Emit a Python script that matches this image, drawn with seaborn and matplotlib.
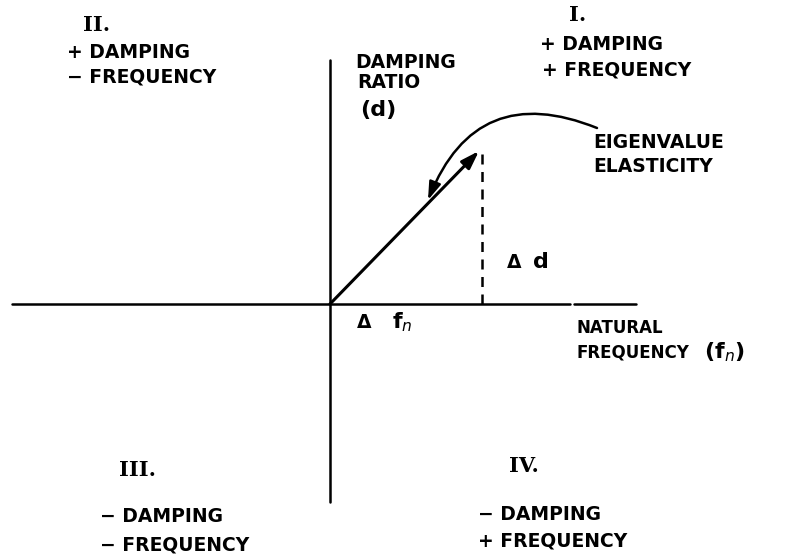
import pandas as pd
import matplotlib.pyplot as plt
import seaborn as sns

# axis extents and the elasticity vector (pixel-like units, origin at the crossing)
freq_axis = [-318, 240, 244, 306]   # drawn in two strokes, small break near the end
damp_axis = [244, -198]
delta_fn = 152
delta_d = 153

# curved "eigenvalue elasticity" arrow: start near the label, end on the vector
curve_start = (267, 176)
curve_end = (98, 104)

quadrant_names = ['I.', 'II.', 'III.', 'IV.']
quadrant_signs = [('+ DAMPING', '+ FREQUENCY'),
                  ('+ DAMPING', '− FREQUENCY'),
                  ('− DAMPING', '− FREQUENCY'),
                  ('− DAMPING', '+ FREQUENCY')]

sns.set_theme(style='white')
plt.rcParams['font.family'] = ['DejaVu Sans']

fig = plt.figure(figsize=(7.86, 5.59), dpi=100)
ax = fig.add_axes([0, 0, 1, 1])

# axes drawn as lines
h = pd.DataFrame({'x': freq_axis, 'y': [0, 0, 0, 0], 'seg': [0, 0, 1, 1]})
v = pd.DataFrame({'x': [0, 0], 'y': damp_axis})
sns.lineplot(data=h, x='x', y='y', units='seg', color='black', lw=1.8, ax=ax,
             sort=False, estimator=None)
sns.lineplot(data=v, x='x', y='y', color='black', lw=1.8, ax=ax, sort=False, estimator=None)

# dashed projection (delta d)
dash = pd.DataFrame({'x': [delta_fn, delta_fn], 'y': [0, delta_d]})
sns.lineplot(data=dash, x='x', y='y', color='black', lw=1.8, ax=ax,
             sort=False, estimator=None, linestyle=(0, (4, 3)))

# the vector
ax.annotate('', xy=(delta_fn - 3, delta_d), xytext=(0, 0),
            arrowprops=dict(arrowstyle='-|>,head_length=0.9,head_width=0.3',
                            color='black', lw=2.2, shrinkA=0, shrinkB=0))

# curved arrow
ax.annotate('', xy=curve_end, xytext=curve_start,
            arrowprops=dict(arrowstyle='-|>,head_length=0.9,head_width=0.3',
                            connectionstyle='arc3,rad=0.5',
                            color='black', lw=1.8, shrinkA=0, shrinkB=0))

txt = dict(fontsize=13.5, fontweight='bold', color='black', va='center')
small = dict(fontsize=12, fontweight='bold', color='black', va='center')
big = dict(fontsize=16, fontweight='bold', color='black', va='center')
num = dict(fontsize=15, fontweight='bold', family='DejaVu Serif', color='black',
           va='center', ha='center')

# quadrant II
ax.text(-233, 279, quadrant_names[1], **num)
ax.text(-263, 251, quadrant_signs[1][0], **txt)
ax.text(-263, 227, quadrant_signs[1][1], **txt)
# quadrant I
ax.text(248, 289, quadrant_names[0], **num)
ax.text(210, 259, quadrant_signs[0][0], **txt)
ax.text(212, 234, quadrant_signs[0][1], **txt)
# quadrant III
ax.text(-192, -166, quadrant_names[2], **num)
ax.text(-230, -213, quadrant_signs[2][0], **txt)
ax.text(-230, -241, quadrant_signs[2][1], **txt)
# quadrant IV
ax.text(194, -162, quadrant_names[3], **num)
ax.text(148, -210, quadrant_signs[3][0], **txt)
ax.text(148, -237, quadrant_signs[3][1], **txt)

# axis labels
ax.text(25, 242, 'DAMPING', **txt)
ax.text(27, 221, 'RATIO', **txt)
ax.text(30, 194, '(d)', **big)
ax.text(247, -24, 'NATURAL', **small)
ax.text(247, -48, 'FREQUENCY', **small)
ax.text(374, -48, r'(f$_n$)', **big)

# annotations
ax.text(263, 162, 'EIGENVALUE', **txt)
ax.text(263, 137, 'ELASTICITY', **txt)
ax.text(177, 42, 'Δ', **txt)
ax.text(203, 42, 'd', **big)
ax.text(27, -18, 'Δ', **txt)
ax.text(62, -18, r'f$_n$', **big)

ax.set_xlim(-330, 456)
ax.set_ylim(-255, 304)
ax.set_axis_off()

plt.savefig('out.png', dpi=100)
